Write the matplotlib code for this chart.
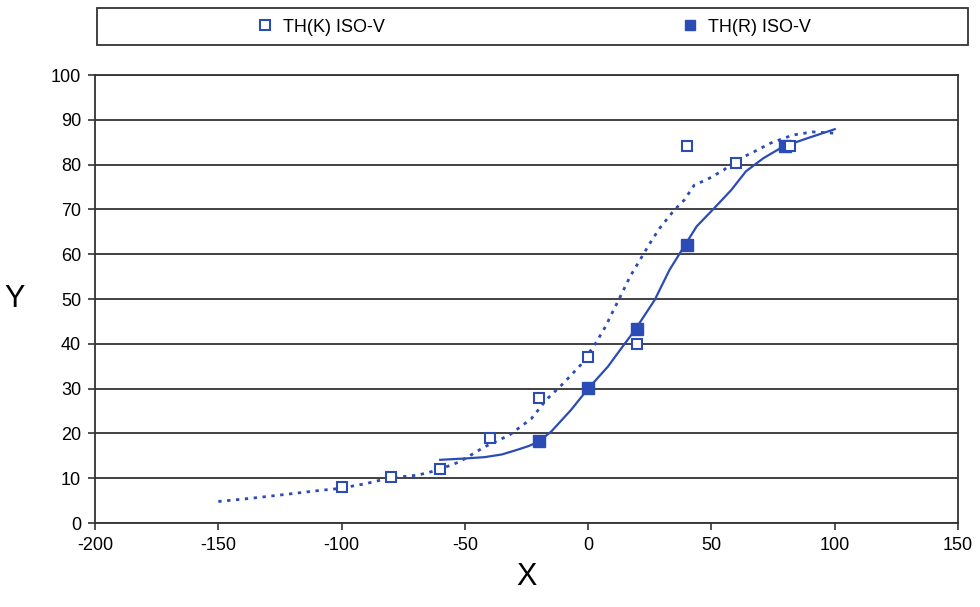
import matplotlib.pyplot as plt
from matplotlib.patches import Rectangle
from matplotlib.lines import Line2D

plt.rcParams['font.family'] = ['Liberation Sans', 'DejaVu Sans']
plt.rcParams['axes.unicode_minus'] = False

blue = '#2B4BB5'

# measured points
k_x = [-100, -80, -60, -40, -20, 0, 20, 40, 60, 82]
k_y = [8, 10.2, 12, 19, 28, 37, 40, 84.2, 80.4, 84.2]
r_x = [-20, 0, 20, 40, 80]
r_y = [18.2, 30.1, 43.2, 62, 84.2]

# fitted curves
k_fit_x = [-150, -137, -124, -110, -101, -90, -81, -69, -61, -52, -42, -32, -23,
           -17, -10, -3, 3, 7, 10, 13, 17, 21, 25, 29, 35, 39, 43, 49, 55, 60,
           66, 74, 83, 91, 100]
k_fit_y = [4.8, 5.5, 6.3, 7.2, 7.7, 8.8, 10, 10.7, 11.8, 13.7, 17, 19.6, 23.3,
           27.5, 31.2, 35.3, 40.1, 43.8, 47.2, 50.5, 55, 58.7, 62.4, 65.8, 69.9,
           72.1, 75.4, 76.9, 78.8, 81, 82.5, 84.8, 86.6, 87.3, 87]
r_fit_x = [-60, -50, -42, -35, -29, -24, -20, -15, -7, 0, 8, 14, 19, 27, 33,
           39, 44, 51, 58, 64, 71, 79, 89, 100]
r_fit_y = [14.1, 14.4, 14.7, 15.3, 16.3, 17.2, 18.2, 20.4, 25.2, 30, 34.9,
           39.4, 43.1, 49.8, 56.5, 61.8, 66.2, 70.2, 74.3, 78.5, 81.4, 84,
           85.9, 87.9]

fig = plt.figure(figsize=(9.8, 6.07), dpi=100)
ax = fig.add_axes([95/980, 1-523/607, (958-95)/980, (523-75)/607])

ax.plot(k_fit_x, k_fit_y, color=blue, lw=2, linestyle=(0, (1.2, 2.0)), zorder=3)
ax.plot(r_fit_x, r_fit_y, color=blue, lw=1.6, zorder=3)
ax.plot(r_x, r_y, 's', color=blue, ms=8, zorder=4)
ax.plot(k_x, k_y, 's', mfc='white', mec=blue, mew=1.5, ms=7.5, zorder=5)

ax.set_xlim(-200, 150)
ax.set_ylim(0, 100)
ax.set_xticks(range(-200, 151, 50))
ax.set_yticks(range(0, 101, 10))
ax.yaxis.grid(True, color='#333333', lw=1.3)
ax.set_axisbelow(True)
for s in ax.spines.values():
    s.set_color('#333333')
    s.set_linewidth(1.3)
ax.tick_params(labelsize=13, length=5, width=1.2, color='#333333', pad=5)

ax.set_xlabel('X', fontsize=22, labelpad=6)
ax.set_ylabel('Y', fontsize=22, rotation=0, labelpad=26, va='center')

# legend box above plot
fig.patches.append(Rectangle((97/980, 1-45/607), (968-97)/980, 37/607,
                             transform=fig.transFigure, fill=False,
                             edgecolor='#333333', lw=1.3))
h1 = Line2D([], [], ls='none', marker='s', mfc='white', mec=blue, mew=1.5, ms=7)
h2 = Line2D([], [], ls='none', marker='s', color=blue, ms=7)
fig.legend([h1], ['TH(K) ISO-V'], loc='center left', frameon=False,
           bbox_to_anchor=(240/980, 1-27/607), fontsize=13,
           handlelength=1, handletextpad=0.5)
fig.legend([h2], ['TH(R) ISO-V'], loc='center left', frameon=False,
           bbox_to_anchor=(665/980, 1-27/607), fontsize=13,
           handlelength=1, handletextpad=0.5)

fig.savefig('out.png', dpi=100)
